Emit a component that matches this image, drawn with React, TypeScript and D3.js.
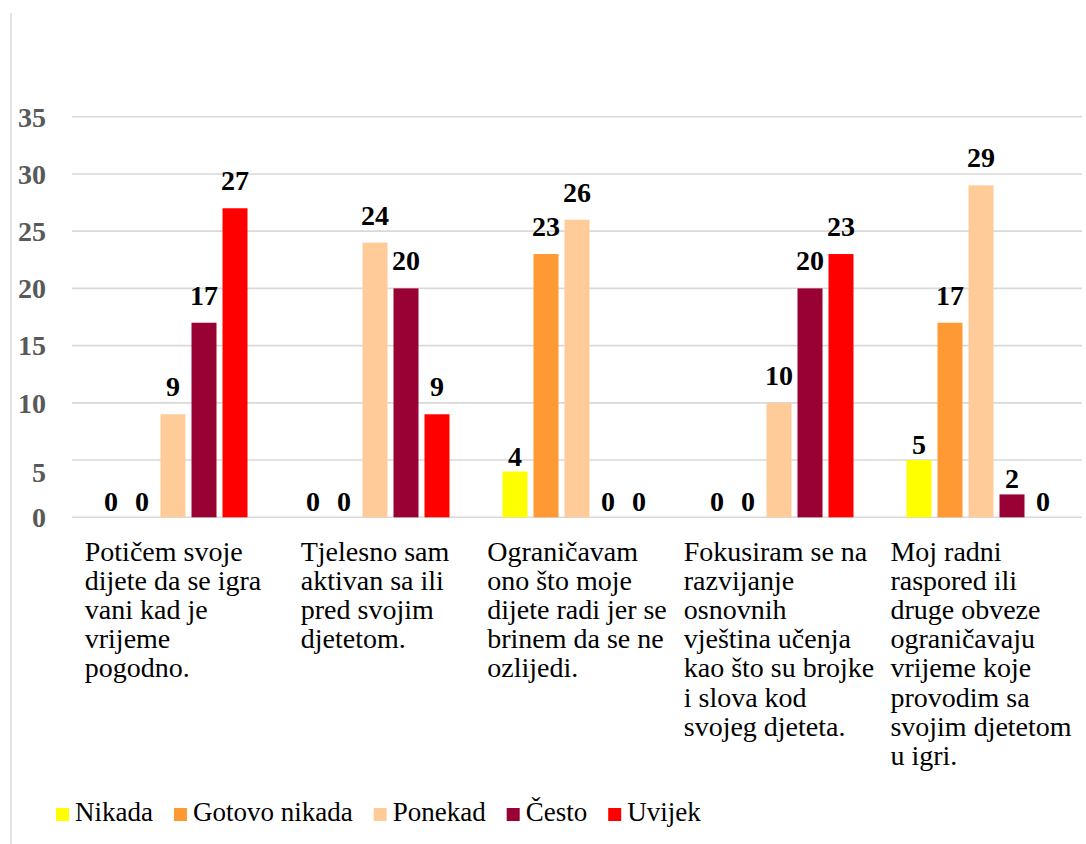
import React, { useEffect, useRef } from "react";
import * as d3 from "d3";

const categories: string[][] = [
  ["Potičem svoje", "dijete da se igra", "vani kad je", "vrijeme", "pogodno."],
  ["Tjelesno sam", "aktivan sa ili", "pred svojim", "djetetom."],
  ["Ograničavam", "ono što moje", "dijete radi jer se", "brinem da se ne", "ozlijedi."],
  ["Fokusiram se na", "razvijanje", "osnovnih", "vještina učenja", "kao što su brojke", "i slova kod", "svojeg djeteta."],
  ["Moj radni", "raspored ili", "druge obveze", "ograničavaju", "vrijeme koje", "provodim sa", "svojim djetetom", "u igri."],
];

const seriesNames = ["Nikada", "Gotovo nikada", "Ponekad", "Često", "Uvijek"];
const seriesColors = ["#FFFF00", "#FF9933", "#FFCC99", "#990033", "#FF0000"];

const nikada = [0, 0, 4, 0, 5];
const gotovoNikada = [0, 0, 23, 0, 17];
const ponekad = [9, 24, 26, 10, 29];
const cesto = [17, 20, 0, 20, 2];
const uvijek = [27, 9, 0, 23, 0];

const yTicks = [0, 5, 10, 15, 20, 25, 30, 35];

const W = 1086;
const H = 844;
const FONT =
  '"Liberation Serif", Tinos, "Times New Roman", Times, "Noto Serif", "DejaVu Serif", FreeSerif, serif';

export default function App() {
  const ref = useRef<SVGSVGElement | null>(null);

  useEffect(() => {
    const svg = d3.select(ref.current);
    svg.selectAll("*").remove();

    const values = [nikada, gotovoNikada, ponekad, cesto, uvijek];
    const catIdx = categories.map((_, i) => i);

    const plotLeft = 72;
    const plotRight = 1082;
    const y = d3.scaleLinear().domain([0, 35]).range([517.3, 116.7]);
    const x0 = d3.scaleBand<number>().domain(catIdx).range([plotLeft, plotRight]).padding(0);
    const groupInner = 149;
    const x1 = d3
      .scaleBand<number>()
      .domain(seriesNames.map((_, i) => i))
      .range([0, groupInner])
      .paddingInner(6 / 31)
      .paddingOuter(0);

    svg.append("rect").attr("width", W).attr("height", H).attr("fill", "#ffffff");

    svg
      .append("line")
      .attr("x1", 11)
      .attr("x2", 11)
      .attr("y1", 13)
      .attr("y2", H)
      .attr("stroke", "#d9d9d9")
      .attr("stroke-width", 1.5);

    svg
      .append("g")
      .selectAll("line")
      .data(yTicks)
      .join("line")
      .attr("x1", plotLeft)
      .attr("x2", plotRight)
      .attr("y1", (d) => y(d))
      .attr("y2", (d) => y(d))
      .attr("stroke", "#d9d9d9")
      .attr("stroke-width", 1.6);

    svg
      .append("g")
      .selectAll("text")
      .data(yTicks)
      .join("text")
      .attr("x", 46)
      .attr("y", (d) => y(d) + (d === 5 ? 12 : 0))
      .attr("dy", "0.35em")
      .attr("text-anchor", "end")
      .style("font-family", FONT)
      .style("font-weight", "bold")
      .style("font-size", "28px")
      .attr("fill", "#595959")
      .text((d) => String(d));

    const groups = svg
      .append("g")
      .selectAll("g")
      .data(catIdx)
      .join("g")
      .attr("transform", (c) => `translate(${x0(c)! + x0.bandwidth() / 2 - groupInner / 2},0)`);

    groups
      .selectAll("rect")
      .data((c) => values.map((arr, s) => ({ s, v: arr[c] })))
      .join("rect")
      .attr("x", (d) => x1(d.s)!)
      .attr("width", x1.bandwidth())
      .attr("y", (d) => y(d.v))
      .attr("height", (d) => y(0) - y(d.v))
      .attr("fill", (d) => seriesColors[d.s]);

    groups
      .selectAll("text")
      .data((c) => values.map((arr, s) => ({ s, v: arr[c] })))
      .join("text")
      .attr("x", (d) => x1(d.s)! + x1.bandwidth() / 2)
      .attr("y", (d) => y(d.v) - (d.v <= 5 ? 6 : 18))
      .attr("text-anchor", "middle")
      .style("font-family", FONT)
      .style("font-weight", "bold")
      .style("font-size", "28px")
      .attr("fill", "#000000")
      .text((d) => String(d.v));

    const catG = svg.append("g");
    categories.forEach((lines, c) => {
      const t = catG
        .append("text")
        .style("font-family", FONT)
        .style("font-size", "28px")
        .attr("fill", "#000000");
      lines.forEach((ln, i) => {
        t.append("tspan").attr("x", 0).attr("y", 561 + i * 29.1).text(ln);
      });
      let maxW = 0;
      t.selectAll<SVGTSpanElement, unknown>("tspan").each(function () {
        maxW = Math.max(maxW, this.getComputedTextLength());
      });
      const cx = x0(c)! + x0.bandwidth() / 2;
      t.attr("transform", `translate(${cx - maxW / 2},0)`);
    });

    const leg = svg.append("g");
    let lx = 56;
    seriesNames.forEach((name, i) => {
      leg
        .append("rect")
        .attr("x", lx)
        .attr("y", 808)
        .attr("width", 13)
        .attr("height", 13)
        .attr("fill", seriesColors[i]);
      const t = leg
        .append("text")
        .attr("x", lx + 19)
        .attr("y", 821)
        .style("font-family", FONT)
        .style("font-size", "27px")
        .attr("fill", "#000000")
        .text(name);
      const w = (t.node() as SVGTextElement).getComputedTextLength();
      lx = lx + 19 + w + 21;
    });
  }, []);

  return (
    <svg
      ref={ref}
      width={W}
      height={H}
      style={{ position: "absolute", left: 0, top: 0, display: "block" }}
    />
  );
}
